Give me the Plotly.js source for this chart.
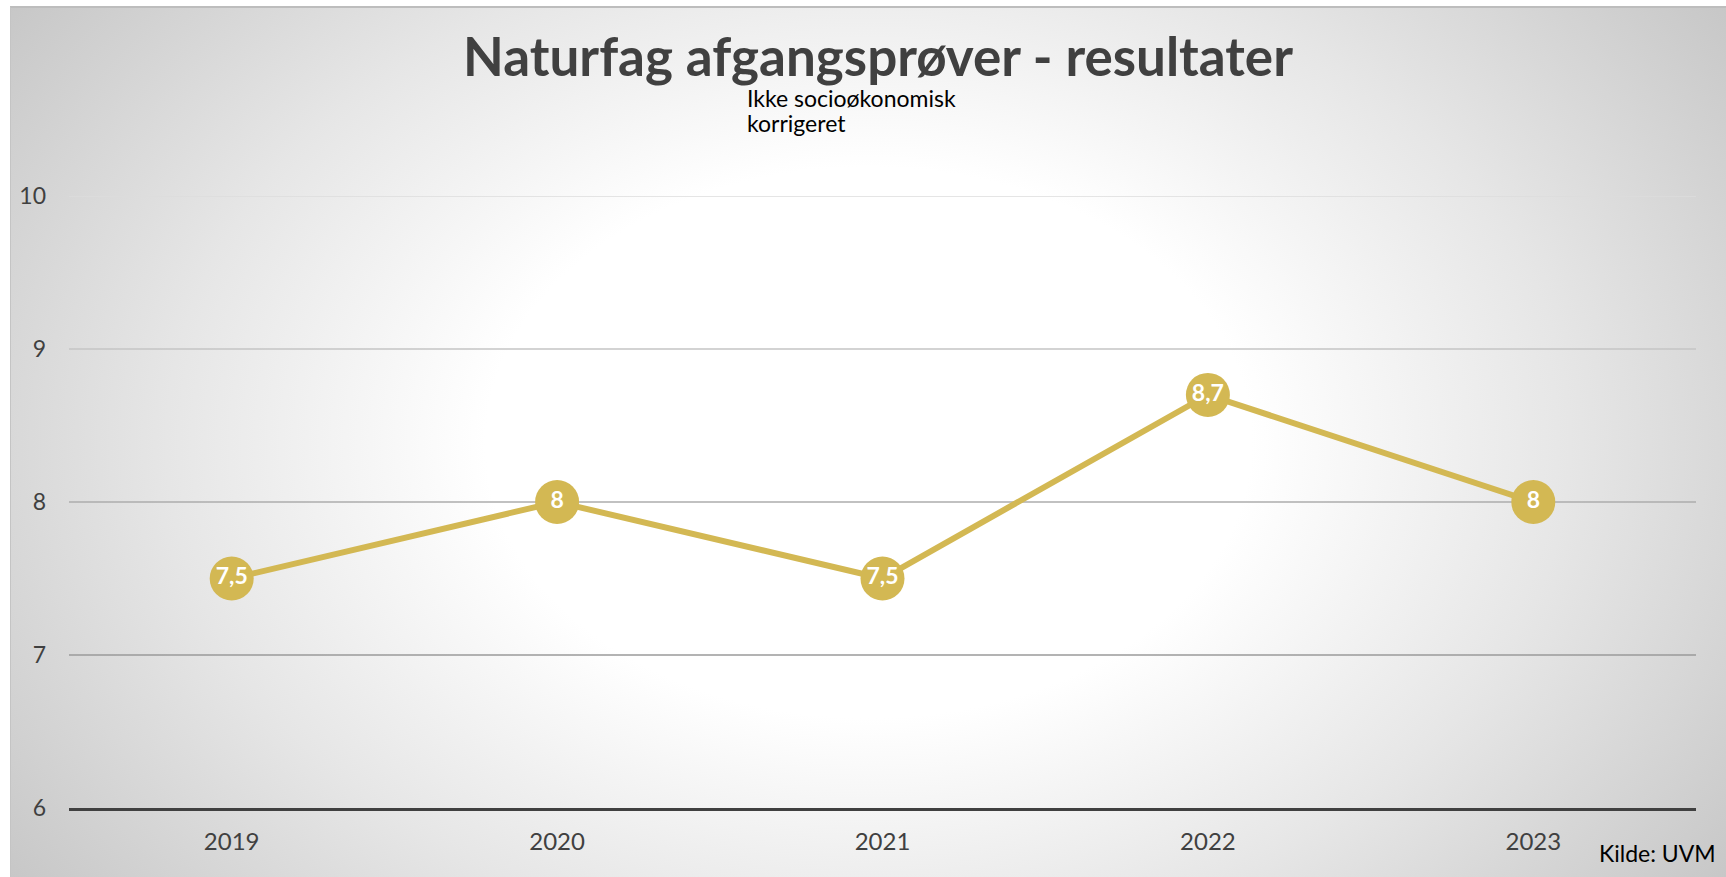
<!DOCTYPE html>
<html>
<head>
<meta charset="utf-8">
<script src="https://cdn.plot.ly/plotly-3.0.1.min.js"></script>
<style>
  html, body { margin: 0; padding: 0; background: #ffffff; width: 1726px; height: 877px; overflow: hidden; }
  #bg { position: absolute; left: 10px; top: 6px; width: 1716px; height: 871px;
        border-top: 2px solid #bdbdbd; border-left: 1px solid #c4c4c4; box-sizing: border-box;
        background: radial-gradient(ellipse 62% 88% at 50% 50%, #ffffff 0%, #ffffff 36%, #e6e6e6 66%, #c6c6c6 100%); }
  #chart { position: absolute; left: 0; top: 0; width: 1726px; height: 877px; }
</style>
</head>
<body>
<div id="bg"></div>
<div id="chart"></div>
<script>
const years = ['2019', '2020', '2021', '2022', '2023'];
const scores = [7.5, 8, 7.5, 8.7, 8];
const yTicks = [6, 7, 8, 9, 10];
const gridValues = [7, 8, 9, 10];
const gridColors = ['#9a9a9a', '#adadad', '#c4c4c4', '#dcdcdc'];
const subtitleLines = ['Ikke socioøkonomisk', 'korrigeret'];

const labels = scores.map(v => String(v).replace('.', ','));

const trace = {
  x: years,
  y: scores,
  type: 'scatter',
  mode: 'lines+markers+text',
  line: { color: '#D3B853', width: 6 },
  marker: { color: '#D3B853', size: 44 },
  text: labels,
  textposition: 'middle center',
  textfont: { family: 'Lato, sans-serif', size: 23, color: '#ffffff', weight: 'bold' },
  hoverinfo: 'x+y',
  cliponaxis: false
};

const shapes = gridValues.map((v, i) => ({
  type: 'line', xref: 'paper', x0: 0, x1: 1, yref: 'y', y0: v, y1: v,
  line: { color: gridColors[i], width: 1.5 }, layer: 'below'
}));

const subtitleAnns = subtitleLines.map((t, i) => ({
  text: t,
  xref: 'paper', yref: 'paper', x: (745 - 69) / 1627, y: (808 - (98 + 25 * i)) / 612,
  xanchor: 'left', yanchor: 'middle', align: 'left', showarrow: false,
  font: { family: 'Lato, sans-serif', size: 23, color: '#000000' }
}));

const layout = {
  width: 1726, height: 877,
  margin: { l: 69, r: 30, t: 196, b: 69 },
  paper_bgcolor: 'rgba(0,0,0,0)',
  plot_bgcolor: 'rgba(0,0,0,0)',
  showlegend: false,
  title: {
    text: 'Naturfag afgangsprøver - resultater',
    font: { family: 'Lato, sans-serif', size: 53, color: '#404040', weight: 'bold' },
    x: 0.5087, xanchor: 'center', xref: 'container',
    y: 1 - 57 / 877, yanchor: 'middle', yref: 'container'
  },
  xaxis: {
    type: 'category', range: [-0.5, years.length - 0.5],
    showgrid: false, zeroline: false,
    showline: true, linecolor: '#404040', linewidth: 3,
    ticks: '', ticklabelstandoff: 10,
    tickfont: { family: 'Lato, sans-serif', size: 24, color: '#404040' }
  },
  yaxis: {
    range: [6, 10], tickvals: yTicks, ticktext: yTicks.map(String),
    showgrid: false, zeroline: false, showline: false,
    ticks: '', ticklabelstandoff: 22,
    tickfont: { family: 'Lato, sans-serif', size: 23, color: '#404040' }
  },
  shapes: shapes,
  annotations: subtitleAnns.concat([
    {
      text: 'Kilde: UVM',
      xref: 'paper', yref: 'paper', x: (1718 - 69) / 1627, y: (808 - 853) / 612,
      xanchor: 'right', yanchor: 'middle', showarrow: false,
      font: { family: 'Lato, sans-serif', size: 23, color: '#000000' }
    }
  ])
};

Plotly.newPlot('chart', [trace], layout, { displayModeBar: false, responsive: false });
</script>
</body>
</html>
